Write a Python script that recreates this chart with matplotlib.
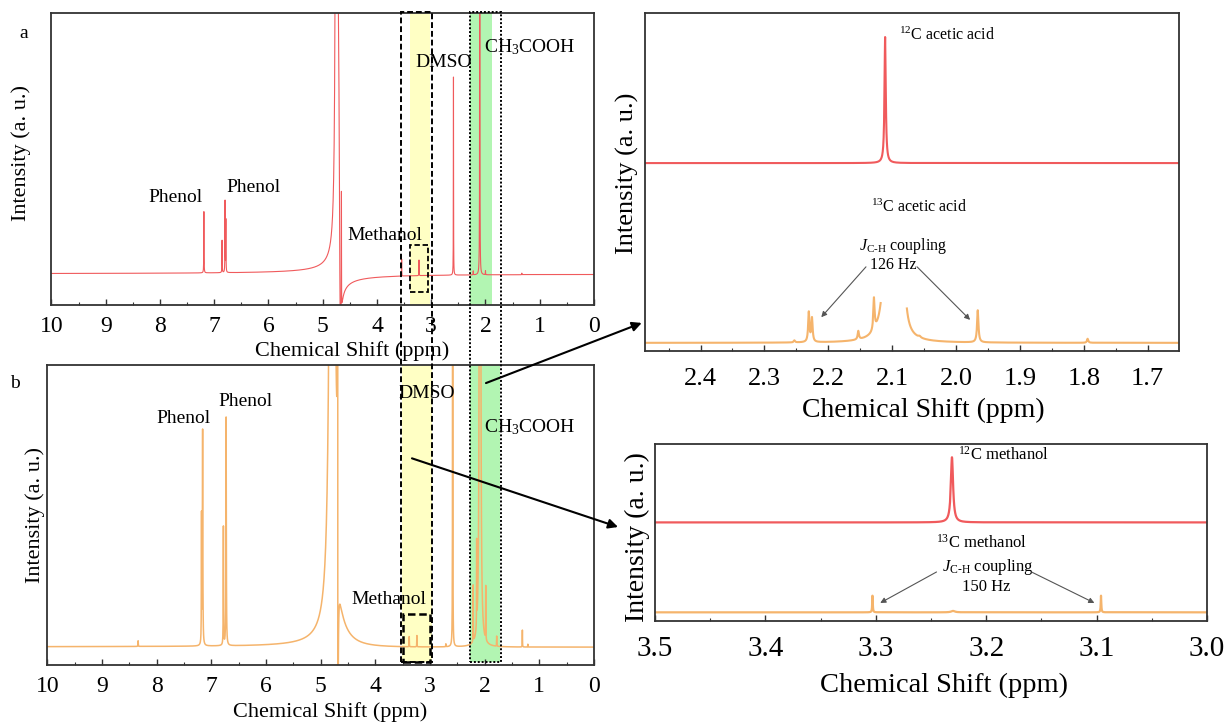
import numpy as np
import matplotlib
matplotlib.use('Agg')
import matplotlib.pyplot as plt
from matplotlib.patches import Rectangle, ConnectionPatch
from matplotlib.transforms import blended_transform_factory
from matplotlib.ticker import MultipleLocator

plt.rcParams['font.family'] = ['Liberation Serif', 'DejaVu Serif']
plt.rcParams['mathtext.fontset'] = 'custom'
plt.rcParams['mathtext.rm'] = 'Liberation Serif'
plt.rcParams['mathtext.it'] = 'Liberation Serif:italic'
plt.rcParams['mathtext.bf'] = 'Liberation Serif:bold'

RED = '#F05A5C'
ORANGE = '#F5B46C'
YELLOW = '#FFFFC4'
GREEN = '#B2F5B2'
SPINE = '#333333'

# ---------------- data ----------------
# panel a : red spectrum, peak positions (ppm), heights, half widths
a_ppm = [7.19, 6.855, 6.80, 6.785, 4.745, 4.655, 3.545, 3.225, 2.59, 2.105, 2.225, 2.00, 1.33]
a_height = [0.235, 0.124, 0.273, 0.20, 32.0, 0.46, 0.065, 0.06, 0.76, 3.0, 0.015, 0.015, 0.006]
a_width = [0.0025, 0.0025, 0.0025, 0.0025, 0.005, 0.0015, 0.002, 0.002, 0.002, 0.002, 0.002, 0.002, 0.002]
# water phase distortion (dispersive part): centre, amplitude, half width
a_disp = (4.69, 0.667, 0.015)

# panel b : orange spectrum
b_ppm = [8.34, 7.16, 7.18, 6.73, 6.78, 4.79, 4.70, 3.38, 3.24, 2.71, 2.585, 2.21, 2.146, 2.085, 1.98, 1.78, 1.31, 1.21]
b_height = [0.02, 0.76, 0.45, 0.81, 0.42, 11.25, 0.05, 0.036, 0.04, 0.01, 3.0, 0.2, 0.3, 20.0, 0.19, 0.036, 0.06, 0.01]
b_width = [0.003, 0.004, 0.003, 0.004, 0.003, 0.02, 0.25, 0.002, 0.002, 0.002, 0.002, 0.002, 0.002, 0.004, 0.002, 0.002, 0.002, 0.002]
b_disp = (4.687, 3.0, 0.0015)

# panel c : acetic acid zoom (2.49 - 1.65 ppm)
c_red_base = 0.556
c_red_ppm = [2.111]
c_red_height = [0.373]
c_red_width = [0.0012]
c_org_base = 0.024
c_org_ppm = [2.253, 2.2305, 2.2255, 2.153, 2.1285, 2.104, 2.086, 2.057, 1.966, 1.794]
c_org_height = [0.006, 0.088, 0.07, 0.025, 0.095, 9.8, 2.67, 0.004, 0.095, 0.012]
c_org_width = [0.0012, 0.0012, 0.0012, 0.0012, 0.0012, 0.0015, 0.0015, 0.002, 0.0013, 0.0012]
c_org_gap = (2.077, 2.118)

# panel d : methanol zoom (3.5 - 3.0 ppm)
d_red_base = 0.557
d_red_ppm = [3.231]
d_red_height = [0.368]
d_red_width = [0.0012]
d_org_base = 0.049
d_org_ppm = [3.303, 3.230, 3.096]
d_org_height = [0.094, 0.008, 0.094]
d_org_width = [0.0003, 0.002, 0.0003]


def lorentz(x, centres, heights, widths):
    y = np.zeros_like(x)
    for c, h, w in zip(centres, heights, widths):
        y += h * w ** 2 / ((x - c) ** 2 + w ** 2)
    return y


def dispersion(x, c, h, w):
    return h * w * (x - c) / ((x - c) ** 2 + w ** 2)


x_full = np.linspace(0, 10, 40001)
y_a = lorentz(x_full, a_ppm, a_height, a_width) + dispersion(x_full, *a_disp)
y_b = lorentz(x_full, b_ppm, b_height, b_width) + dispersion(x_full, *b_disp)

x_c = np.linspace(1.64, 2.50, 20001)
y_c_red = c_red_base + lorentz(x_c, c_red_ppm, c_red_height, c_red_width)
y_c_org = c_org_base + lorentz(x_c, c_org_ppm, c_org_height, c_org_width)
y_c_org[(x_c > c_org_gap[0]) & (x_c < c_org_gap[1])] = np.nan

x_d = np.linspace(3.0, 3.5, 20001)
y_d_red = d_red_base + lorentz(x_d, d_red_ppm, d_red_height, d_red_width)
y_d_org = d_org_base + lorentz(x_d, d_org_ppm, d_org_height, d_org_width)

# ---------------- figure ----------------
fig = plt.figure(figsize=(12.28, 7.27), dpi=100)
ax_a = fig.add_axes([0.0419, 0.5805, 0.4418, 0.4012])
ax_b = fig.add_axes([0.0386, 0.0853, 0.4451, 0.4126])
ax_c = fig.add_axes([0.5252, 0.5172, 0.4349, 0.4649])
ax_d = fig.add_axes([0.5334, 0.1458, 0.4495, 0.2435])


def style(ax, tick_fs, major, minor, pad):
    for s in ax.spines.values():
        s.set_color(SPINE)
        s.set_linewidth(1.3)
    ax.set_yticks([])
    ax.xaxis.set_major_locator(MultipleLocator(major))
    ax.xaxis.set_minor_locator(MultipleLocator(minor))
    ax.tick_params(axis='x', which='major', direction='in', length=4, width=1.0,
                   labelsize=tick_fs, pad=pad, color=SPINE)
    ax.tick_params(axis='x', which='minor', direction='in', length=2.5, width=0.8, color=SPINE)


# panel a
ax_a.axvspan(3.391, 3.022, color=YELLOW, lw=0, zorder=0)
ax_a.axvspan(2.285, 1.880, color=GREEN, lw=0, zorder=0)
ax_a.plot(x_full, y_a, color=RED, lw=0.8, zorder=2)
ax_a.set_xlim(10, 0)
ax_a.set_ylim(-0.119, 1.0)
style(ax_a, 17, 1, 0.5, 8)
ax_a.set_xticks(range(0, 11))
ax_a.set_xlabel('Chemical Shift (ppm)', fontsize=16)
ax_a.set_ylabel('Intensity (a. u.)', fontsize=16)
ax_a.xaxis.set_label_coords(0.554, -0.123)
ax_a.yaxis.set_label_coords(-0.038, 0.52)
ax_a.add_patch(Rectangle((3.391, -0.069), 3.059 - 3.391, 0.18, fill=False,
                         ls=(0, (3, 1.5)), lw=1.3, ec='black', zorder=3))
ax_a.text(7.71, 0.295, 'Phenol', fontsize=14, ha='center', va='center')
ax_a.text(6.28, 0.33, 'Phenol', fontsize=14, ha='center', va='center')
ax_a.text(3.85, 0.149, 'Methanol', fontsize=14, ha='center', va='center')
ax_a.text(2.78, 0.81, 'DMSO', fontsize=14, ha='center', va='center')
ax_a.text(1.18, 0.87, r'CH$_3$COOH', fontsize=14, ha='center', va='center')

# panel b
ax_b.axvspan(3.513, 2.964, ymin=0.01, color=YELLOW, lw=0, zorder=0)
ax_b.axvspan(2.269, 1.720, ymin=0.01, color=GREEN, lw=0, zorder=0)
ax_b.plot(x_full, y_b, color=ORANGE, lw=1.1, zorder=2)
ax_b.set_xlim(10, 0)
ax_b.set_ylim(-0.064, 1.0)
style(ax_b, 17, 1, 0.5, 8)
ax_b.set_xticks(range(0, 11))
ax_b.set_xlabel('Chemical Shift (ppm)', fontsize=16)
ax_b.set_ylabel('Intensity (a. u.)', fontsize=16)
ax_b.xaxis.set_label_coords(0.517, -0.125)
ax_b.yaxis.set_label_coords(-0.004, 0.5)
ax_b.add_patch(Rectangle((3.494, -0.053), 3.0 - 3.494, 0.17, fill=False,
                         ls=(0, (3, 1.5)), lw=1.8, ec='black', zorder=3))
ax_b.text(7.52, 0.81, 'Phenol', fontsize=14, ha='center', va='center')
ax_b.text(6.37, 0.87, 'Phenol', fontsize=14, ha='center', va='center')
ax_b.text(3.75, 0.167, 'Methanol', fontsize=14, ha='center', va='center')
ax_b.text(3.07, 0.90, 'DMSO', fontsize=14, ha='center', va='center')
ax_b.text(1.17, 0.78, r'CH$_3$COOH', fontsize=14, ha='center', va='center')

# figure-spanning boxes (x in panel-a ppm, y in figure fraction)
tr = blended_transform_factory(ax_a.transData, fig.transFigure)
y0 = 1 - 662 / 727
hgt = (662 - 12) / 727
fig.add_artist(Rectangle((3.557, y0), 2.986 - 3.557, hgt, transform=tr, fill=False,
                         ls=(0, (3, 1.5)), lw=1.4, ec='black', zorder=5))
fig.add_artist(Rectangle((2.285, y0), 1.714 - 2.285, hgt, transform=tr, fill=False,
                         ls=(0, (1, 1)), lw=1.4, ec='black', zorder=5))

# panel c
ax_c.plot(x_c, y_c_red, color=RED, lw=1.5)
ax_c.plot(x_c, y_c_org, color=ORANGE, lw=1.5)
ax_c.set_xlim(2.487, 1.651)
ax_c.set_ylim(0, 1)
style(ax_c, 19, 0.1, 0.05, 12)
ax_c.set_xticks([2.4, 2.3, 2.2, 2.1, 2.0, 1.9, 1.8, 1.7])
ax_c.set_xlabel('Chemical Shift (ppm)', fontsize=20)
ax_c.set_ylabel('Intensity (a. u.)', fontsize=19)
ax_c.xaxis.set_label_coords(0.522, -0.139)
ax_c.yaxis.set_label_coords(-0.011, 0.527)
ax_c.text(2.09, 0.935, r'$^{12}$C acetic acid', fontsize=11.5, ha='left', va='center')
ax_c.text(2.058, 0.426, r'$^{13}$C acetic acid', fontsize=11.5, ha='center', va='center')
ax_c.text(2.083, 0.311, r'$J_{\mathrm{C\text{-}H}}$ coupling', fontsize=11.5, ha='center', va='center')
ax_c.text(2.098, 0.254, '126 Hz', fontsize=11.5, ha='center', va='center')
arr = dict(arrowstyle='-|>', color='#555555', lw=0.8, mutation_scale=8, shrinkA=0, shrinkB=0)
ax_c.annotate('', xy=(2.211, 0.10), xytext=(2.141, 0.249), arrowprops=arr)
ax_c.annotate('', xy=(1.978, 0.092), xytext=(2.061, 0.249), arrowprops=arr)

# panel d
ax_d.plot(x_d, y_d_red, color=RED, lw=1.6)
ax_d.plot(x_d, y_d_org, color=ORANGE, lw=1.6)
ax_d.set_xlim(3.5, 3.0)
ax_d.set_ylim(0, 1)
style(ax_d, 21, 0.1, 0.05, 11)
ax_d.set_xticks([3.5, 3.4, 3.3, 3.2, 3.1, 3.0])
ax_d.set_xlabel('Chemical Shift (ppm)', fontsize=20.5)
ax_d.set_ylabel('Intensity (a. u.)', fontsize=20)
ax_d.xaxis.set_label_coords(0.524, -0.294)
ax_d.yaxis.set_label_coords(-0.009, 0.475)
ax_d.text(3.226, 0.938, r'$^{12}$C methanol', fontsize=12, ha='left', va='center')
ax_d.text(3.204, 0.44, r'$^{13}$C methanol', fontsize=12, ha='center', va='center')
ax_d.text(3.198, 0.305, r'$J_{\mathrm{C\text{-}H}}$ coupling', fontsize=12, ha='center', va='center')
ax_d.text(3.2, 0.192, '150 Hz', fontsize=12, ha='center', va='center')
ax_d.annotate('', xy=(3.296, 0.102), xytext=(3.245, 0.277), arrowprops=arr)
ax_d.annotate('', xy=(3.102, 0.102), xytext=(3.159, 0.277), arrowprops=arr)

# connecting arrows
con1 = ConnectionPatch(xyA=(1.976, 0.936), coordsA=ax_b.transData,
                       xyB=(-0.006, 0.083), coordsB=ax_c.transAxes,
                       arrowstyle='-|>', mutation_scale=14, lw=1.5, color='black',
                       shrinkA=0, shrinkB=0, zorder=6)
fig.add_artist(con1)
con2 = ConnectionPatch(xyA=(3.33, 0.669), coordsA=ax_b.transData,
                       xyB=(-0.067, 0.531), coordsB=ax_d.transAxes,
                       arrowstyle='-|>', mutation_scale=14, lw=1.5, color='black',
                       shrinkA=0, shrinkB=0, zorder=6)
fig.add_artist(con2)

fig.text(24 / 1228, 1 - 33 / 727, 'a', fontsize=14, ha='center', va='center')
fig.text(15 / 1228, 1 - 383 / 727, 'b', fontsize=14, ha='center', va='center')

fig.savefig('out.png', dpi=100)
